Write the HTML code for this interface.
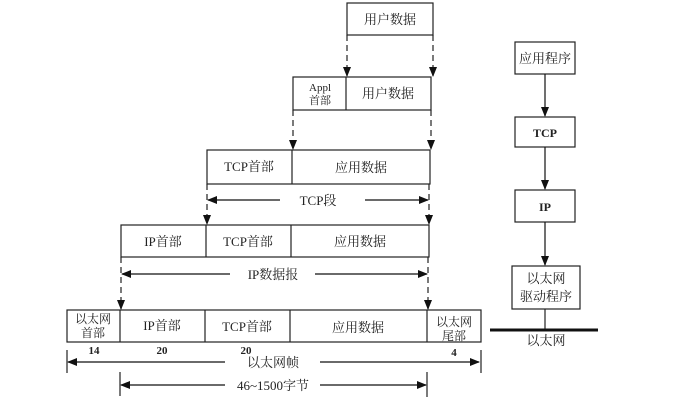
<!DOCTYPE html>
<html><head><meta charset="utf-8"><style>
html,body{margin:0;padding:0;background:#fff;}
svg{display:block;}
text{font-family:"Liberation Serif","Noto Serif CJK SC","Noto Sans CJK SC",serif;fill:#222;}
</style></head><body>
<svg width="673" height="408" viewBox="0 0 673 408" xmlns="http://www.w3.org/2000/svg">
<defs>
<marker id="a" markerWidth="10" markerHeight="10" refX="9" refY="5" orient="auto" markerUnits="userSpaceOnUse"><path d="M0,1 L10,5 L0,9 z" fill="#111"/></marker>
</defs>
<g fill="none" stroke="#222" stroke-width="1.2">
<rect x="347" y="3" width="86" height="32"/>
<rect x="293" y="77" width="138" height="33"/><line x1="346" y1="77" x2="346" y2="110"/>
<rect x="207" y="150" width="223" height="34"/><line x1="292" y1="150" x2="292" y2="184"/>
<rect x="121" y="225" width="308" height="32"/><line x1="206" y1="225" x2="206" y2="257"/><line x1="291" y1="225" x2="291" y2="257"/>
<rect x="67" y="310" width="414" height="32"/>
<line x1="120" y1="310" x2="120" y2="342"/><line x1="205" y1="310" x2="205" y2="342"/><line x1="290" y1="310" x2="290" y2="342"/><line x1="427" y1="310" x2="427" y2="342"/>
</g>
<g stroke="#222" stroke-width="1.2" stroke-dasharray="6,4" marker-end="url(#a)">
<line x1="347" y1="35" x2="347" y2="76"/><line x1="433" y1="35" x2="433" y2="76"/>
<line x1="293" y1="110" x2="293" y2="149"/><line x1="431" y1="110" x2="431" y2="149"/>
<line x1="207" y1="184" x2="207" y2="224"/><line x1="429" y1="184" x2="429" y2="224"/>
<line x1="121" y1="257" x2="121" y2="309"/><line x1="428" y1="257" x2="428" y2="309"/>
</g>
<g stroke="#111" stroke-width="1.2" marker-end="url(#a)">
<line x1="280" y1="200" x2="208" y2="200"/><line x1="365" y1="200" x2="428" y2="200"/>
<line x1="230" y1="274" x2="122" y2="274"/><line x1="315" y1="274" x2="427" y2="274"/>
<line x1="225" y1="362" x2="68" y2="362"/><line x1="320" y1="362" x2="479" y2="362"/>
<line x1="225" y1="385" x2="121" y2="385"/><line x1="320" y1="385" x2="426" y2="385"/>
</g>
<g stroke="#222" stroke-width="1.2">
<line x1="67" y1="350" x2="67" y2="373"/><line x1="481" y1="350" x2="481" y2="373"/>
<line x1="120" y1="372" x2="120" y2="396"/><line x1="427" y1="372" x2="427" y2="397"/>
</g>
<g font-size="13" text-anchor="middle">
<text x="390" y="24">用户数据</text>
<text x="320" y="91" font-size="11">Appl</text><text x="320" y="104" font-size="11">首部</text>
<text x="388" y="98">用户数据</text>
<text x="249" y="171">TCP首部</text><text x="361" y="172">应用数据</text>
<text x="318" y="205">TCP段</text>
<text x="163" y="246">IP首部</text><text x="248" y="246">TCP首部</text><text x="360" y="246">应用数据</text>
<text x="273" y="279">IP数据报</text>
<text x="93" y="323" font-size="12">以太网</text><text x="93" y="337" font-size="12">首部</text>
<text x="162" y="330">IP首部</text><text x="247" y="331">TCP首部</text><text x="358" y="332">应用数据</text>
<text x="454" y="326" font-size="12">以太网</text><text x="454" y="340" font-size="12">尾部</text>
<text x="94" y="354" font-size="11" font-weight="bold">14</text>
<text x="162" y="354" font-size="11" font-weight="bold">20</text>
<text x="246" y="354" font-size="11" font-weight="bold">20</text>
<text x="454" y="356" font-size="11" font-weight="bold">4</text>
<text x="273" y="367">以太网帧</text>
<text x="273" y="390">46~1500字节</text>
</g>
<g fill="none" stroke="#222" stroke-width="1.2">
<rect x="515" y="42" width="60" height="32"/>
<rect x="515" y="117" width="60" height="30"/>
<rect x="515" y="190" width="60" height="32"/>
<rect x="512" y="266" width="68" height="43"/>
</g>
<g stroke="#111" stroke-width="1.2" marker-end="url(#a)">
<line x1="545" y1="74" x2="545" y2="116"/>
<line x1="545" y1="147" x2="545" y2="189"/>
<line x1="545" y1="222" x2="545" y2="265"/>
</g>
<line x1="545" y1="309" x2="545" y2="330" stroke="#222" stroke-width="1.2"/>
<line x1="490" y1="330" x2="598" y2="330" stroke="#111" stroke-width="3"/>
<g font-size="13" text-anchor="middle">
<text x="545" y="63">应用程序</text>
<text x="545" y="137" font-size="12" font-weight="bold">TCP</text>
<text x="545" y="211" font-size="12" font-weight="bold">IP</text>
<text x="546" y="283">以太网</text>
<text x="546" y="301">驱动程序</text>
<text x="546" y="345">以太网</text>
</g>
</svg>
</body></html>
